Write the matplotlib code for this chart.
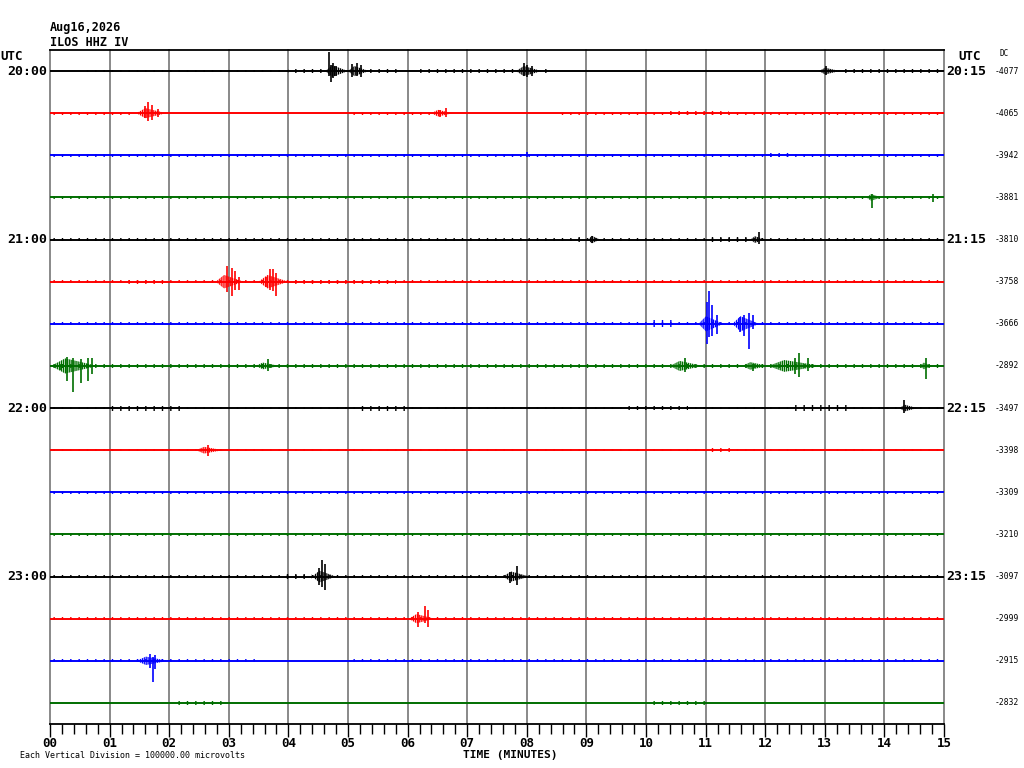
import numpy as np
import matplotlib.pyplot as plt
from matplotlib.transforms import blended_transform_factory

# helicorder page, 16 lines of 15 minutes, amplitudes in vertical divisions
left_labels = ["20:00", "", "", "", "21:00", "", "", "", "22:00", "", "", "", "23:00", "", "", ""]
right_labels = ["20:15", "", "", "", "21:15", "", "", "", "22:15", "", "", "", "23:15", "", "", ""]
dc_values = [-4077, -4065, -3942, -3881, -3810, -3758, -3666, -2892,
             -3497, -3398, -3309, -3210, -3097, -2999, -2915, -2832]
line_colors = ["#000000", "#ff0000", "#0000ff", "#006e00"]
minute_labels = ["%02d" % m for m in range(16)]

# dense part of each burst: row, start min, end min, half amplitude
burst_row = [0, 0, 0, 0, 1, 1, 4, 4, 5, 5, 6, 6, 7, 7, 7, 7, 7, 7, 8, 9, 12, 12, 13, 14, 3]
burst_t0 = [4.62, 5.00, 7.82, 12.90, 1.45, 6.40, 9.03, 11.75, 2.78, 3.50, 10.88, 11.45,
            0.02, 3.45, 10.40, 11.62, 12.05, 14.60, 14.25, 2.45, 4.40, 7.60, 6.02, 1.45, 13.70]
burst_t1 = [5.00, 5.35, 8.25, 13.25, 1.95, 6.76, 9.23, 12.00, 3.25, 4.00, 11.30, 11.90,
            0.80, 3.85, 10.95, 12.05, 12.95, 14.80, 14.55, 2.90, 4.80, 8.05, 6.45, 1.98, 13.95]
burst_amp = [0.14, 0.12, 0.12, 0.08, 0.12, 0.08, 0.09, 0.08, 0.16, 0.16, 0.18, 0.18,
             0.18, 0.08, 0.12, 0.09, 0.14, 0.08, 0.08, 0.08, 0.14, 0.12, 0.11, 0.10, 0.08]

# largest swings: row, minute, up, down
spike_row = [0, 0, 0, 0, 0, 0, 0, 0, 0, 0, 0,
             1, 1, 1, 1, 1, 1,
             2, 3, 3, 4, 4,
             5, 5, 5, 5, 5, 5, 5, 5,
             6, 6, 6, 6, 6, 6, 6, 6,
             7, 7, 7, 7, 7, 7, 7, 7, 7, 7, 7, 7, 7,
             8, 9, 12, 12, 12, 12, 12, 13, 13, 13, 14, 14, 14]
spike_t = [4.68, 4.72, 4.75, 4.80, 5.07, 5.15, 5.22, 7.95, 8.00, 8.09, 13.02,
           1.59, 1.64, 1.71, 1.81, 6.54, 6.64,
           8.00, 13.79, 14.82, 9.10, 11.90,
           2.97, 3.05, 3.10, 3.17, 3.62, 3.69, 3.74, 3.79,
           11.02, 11.06, 11.10, 11.19, 11.58, 11.64, 11.73, 11.80,
           0.17, 0.29, 0.39, 0.52, 0.64, 0.70, 3.66, 10.65, 11.80, 12.50, 12.57, 12.72, 14.70,
           14.33, 2.65, 4.51, 4.56, 4.62, 7.72, 7.84, 6.17, 6.29, 6.34, 1.68, 1.73, 1.76]
spike_up = [0.45, 0.15, 0.19, 0.12, 0.17, 0.19, 0.14, 0.19, 0.14, 0.12, 0.12,
            0.17, 0.27, 0.19, 0.10, 0.08, 0.13,
            0.07, 0.08, 0.08, 0.09, 0.17,
            0.38, 0.33, 0.26, 0.12, 0.12, 0.29, 0.31, 0.20,
            0.52, 0.78, 0.45, 0.20, 0.15, 0.21, 0.26, 0.20,
            0.05, 0.21, 0.20, 0.16, 0.20, 0.20, 0.17, 0.19, 0.05, 0.20, 0.30, 0.19, 0.19,
            0.19, 0.12, 0.20, 0.40, 0.29, 0.12, 0.24, 0.15, 0.31, 0.20, 0.17, 0.10, 0.14]
spike_down = [0.12, 0.26, 0.17, 0.12, 0.14, 0.12, 0.14, 0.12, 0.14, 0.12, 0.10,
              0.12, 0.19, 0.15, 0.10, 0.10, 0.10,
              0.03, 0.24, 0.10, 0.09, 0.10,
              0.24, 0.33, 0.20, 0.20, 0.12, 0.20, 0.21, 0.33,
              0.48, 0.31, 0.30, 0.25, 0.20, 0.30, 0.60, 0.12,
              0.10, 0.36, 0.62, 0.40, 0.36, 0.20, 0.12, 0.14, 0.12, 0.20, 0.26, 0.12, 0.31,
              0.12, 0.14, 0.20, 0.24, 0.33, 0.16, 0.20, 0.20, 0.10, 0.20, 0.17, 0.50, 0.20]

# background noise bands: row, start, end, half amplitude
noise_row = [0, 0, 0, 0, 0, 0, 1, 1, 1, 1, 2, 2, 3, 4, 4, 4, 5, 5, 5, 6, 6, 6,
             7, 8, 8, 8, 8, 8, 9, 9, 10, 11, 12, 12, 13, 14, 14, 15, 15]
noise_t0 = [0.5, 4.0, 5.35, 6.2, 8.25, 13.25, 0.0, 5.0, 8.5, 10.3, 0.0, 12.0, 0.0, 0.0, 11.0, 8.8,
            0.0, 1.2, 4.0, 0.0, 9.5, 10.1, 0.0, 1.0, 5.2, 9.65, 12.5, 0.0, 0.0, 11.0, 0.0, 0.0,
            0.0, 3.9, 0.0, 0.0, 5.0, 2.1, 10.1]
noise_t1 = [4.0, 4.62, 5.9, 7.82, 8.4, 15.0, 1.45, 6.4, 15.0, 11.4, 15.0, 12.5, 15.0, 15.0, 11.75, 9.0,
            15.0, 1.9, 5.8, 9.5, 15.0, 10.45, 15.0, 2.18, 6.04, 10.7, 13.4, 15.0, 15.0, 11.5, 15.0, 15.0,
            15.0, 4.4, 15.0, 3.5, 15.0, 2.9, 11.0]
noise_amp = [0.03, 0.05, 0.05, 0.05, 0.05, 0.05, 0.04, 0.04, 0.04, 0.05, 0.03, 0.05, 0.04, 0.04,
             0.06, 0.05, 0.04, 0.05, 0.05, 0.04, 0.04, 0.08, 0.04, 0.06, 0.06, 0.05, 0.07, 0.03,
             0.03, 0.05, 0.03, 0.03, 0.04, 0.05, 0.04, 0.04, 0.04, 0.05, 0.04]

plt.rcParams["hatch.linewidth"] = 1.0

fig = plt.figure(figsize=(10.24, 7.68), dpi=100)
ax = fig.add_axes([50 / 1024, 44 / 768, 894 / 1024, 674 / 768])
ax.set_xlim(0, 15)
ax.set_ylim(15.5, -0.5)

mono = "DejaVu Sans Mono"

for m in range(16):
    ax.axvline(m, color="#808080", lw=1.3, zorder=1, clip_on=False)

for r in range(16):
    c = line_colors[r % 4]
    ax.plot([0, 15], [r, r], color=c, lw=1.4, zorder=2, solid_capstyle="butt")

for r, a, b, amp in zip(noise_row, noise_t0, noise_t1, noise_amp):
    ax.fill_between([a, b], [r - amp, r - amp], [r + amp, r + amp],
                    facecolor="none", edgecolor=line_colors[r % 4], hatch="||", lw=0, zorder=2)

for r, a, b, amp in zip(burst_row, burst_t0, burst_t1, burst_amp):
    ax.fill([a, a + (b - a) * 0.3, b, a + (b - a) * 0.3], [r, r - amp, r, r + amp],
            facecolor="none", edgecolor=line_colors[r % 4], hatch="||||||||", lw=0, zorder=3)

for r, t, up, dn in zip(spike_row, spike_t, spike_up, spike_down):
    ax.vlines(t, r - up, r + dn, color=line_colors[r % 4], lw=1.2, zorder=4)

# frame and time axis
for s in ["left", "right"]:
    ax.spines[s].set_visible(False)
ax.spines["top"].set_linewidth(1.3)
ax.spines["bottom"].set_linewidth(1.3)
ax.set_yticks([])
ax.set_xticks(range(16))
ax.set_xticklabels(minute_labels, fontfamily=mono, fontweight="bold", fontsize=9)
ax.set_xticks(np.arange(0, 15.01, 0.2), minor=True)
ax.tick_params(axis="x", which="major", length=9, width=1.0, pad=0.5, direction="out")
ax.tick_params(axis="x", which="minor", length=7, width=1.0)

tr = blended_transform_factory(ax.transAxes, ax.transData)
for r in range(16):
    if left_labels[r]:
        ax.text(-0.003, r, left_labels[r], transform=tr, ha="right", va="center",
                fontfamily=mono, fontweight="bold", fontsize=9.5)
    if right_labels[r]:
        ax.text(1.003, r, right_labels[r], transform=tr, ha="left", va="center",
                fontfamily=mono, fontweight="bold", fontsize=9.5)
    ax.text(1.057, r, str(dc_values[r]), transform=tr, ha="left", va="center",
            fontfamily=mono, fontsize=5.8)

fig.text(50 / 1024, 1 - 27 / 768, "Aug16,2026", ha="left", va="center",
         fontfamily=mono, fontweight="bold", fontsize=8.5)
fig.text(50 / 1024, 1 - 42 / 768, "ILOS HHZ IV", ha="left", va="center",
         fontfamily=mono, fontweight="bold", fontsize=8.5)
fig.text(0 / 1024, 1 - 57 / 768, "UTC", ha="left", va="center",
         fontfamily=mono, fontweight="bold", fontsize=9)
fig.text(958 / 1024, 1 - 57 / 768, "UTC", ha="left", va="center",
         fontfamily=mono, fontweight="bold", fontsize=9)
fig.text(1000 / 1024, 1 - 53 / 768, "DC", ha="left", va="center",
         fontfamily=mono, fontsize=5.5)
fig.text(510 / 1024, 1 - 755 / 768, "TIME (MINUTES)", ha="center", va="center",
         fontfamily=mono, fontweight="bold", fontsize=8)
fig.text(20 / 1024, 1 - 756 / 768, "Each Vertical Division = 100000.00 microvolts",
         ha="left", va="center", fontfamily=mono, fontsize=6)

fig.savefig("out.png", dpi=100, facecolor="white")
